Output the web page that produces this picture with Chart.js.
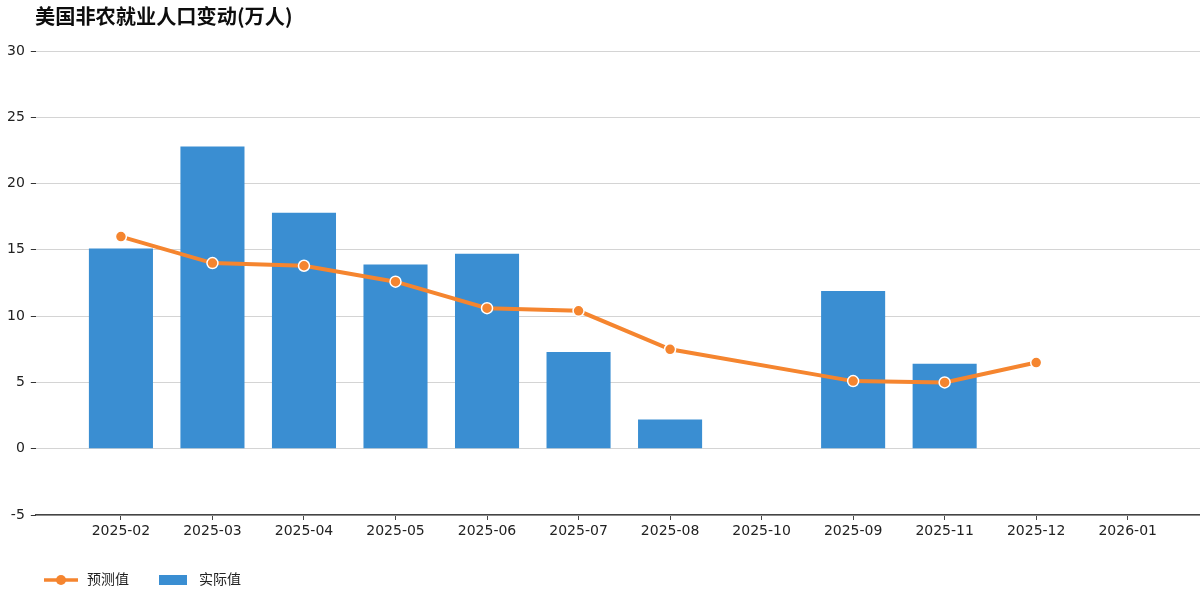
<!DOCTYPE html>
<html>
<head>
<meta charset="utf-8">
<script src="https://cdn.jsdelivr.net/npm/chart.js@4.4.0/dist/chart.umd.min.js"></script>
<style>
  html, body { margin: 0; padding: 0; background: #fff; }
  #wrap { position: relative; width: 1200px; height: 595px; }
  #title { position: absolute; left: 35px; top: 1px; font: bold 20.2px "Noto Sans CJK SC", sans-serif; color: #0d0d0d; }
</style>
</head>
<body>
<div id="wrap">
  <div id="title">美国非农就业人口变动(万人)</div>
  <canvas id="chart" width="1200" height="595"></canvas>
</div>
<script>
// x categories, in the order the source chart shows them
const months = ['2025-02', '2025-03', '2025-04', '2025-05', '2025-06', '2025-07',
                '2025-08', '2025-10', '2025-09', '2025-11', '2025-12', '2026-01'];
// 实际值 (bars) and 预测值 (line), 万人
const actual   = [15.1, 22.8, 17.8, 13.9, 14.7, 7.3, 2.2, null, 11.9, 6.4, null, null];
const forecast = [16.0, 14.0, 13.8, 12.6, 10.6, 10.4, 7.5, null, 5.1, 5.0, 6.5, null];

const BLUE = '#3a8ed2';
const ORANGE = '#f5852f';
const FONT = '"DejaVu Sans", "Noto Sans CJK SC", sans-serif';

/* legend swatches: a line with a dot, and a flat box */
function lineSwatch() {
    const c = document.createElement('canvas');
    c.width = 34; c.height = 14;
    const g = c.getContext('2d');
    g.strokeStyle = ORANGE; g.lineWidth = 3.5;
    g.beginPath(); g.moveTo(0, 7); g.lineTo(34, 7); g.stroke();
    g.fillStyle = ORANGE;
    g.beginPath(); g.arc(17, 7, 5, 0, Math.PI * 2); g.fill();
    return c;
}
function barSwatch() {
    const c = document.createElement('canvas');
    c.width = 28; c.height = 10;
    const g = c.getContext('2d');
    g.fillStyle = BLUE; g.fillRect(0, 0, 28, 10);
    return c;
}
const swatches = [lineSwatch(), barSwatch()];

// legend sits a bit right of the canvas edge
const legendShift = {
    id: 'legendShift',
    afterLayout(chart) { chart.legend.left += 16; chart.legend.top += 6; }
};

new Chart(document.getElementById('chart'), {
    type: 'bar',
    data: {
        datasets: [{
            type: 'line',
            label: '预测值',
            data: forecast.map((v, i) => ({x: i, y: v})),
            borderColor: ORANGE,
            backgroundColor: ORANGE,
            borderWidth: 4,
            pointRadius: 5.5,
            pointBackgroundColor: ORANGE,
            pointBorderColor: '#fff',
            pointBorderWidth: 1.5,
            spanGaps: true,
            tension: 0,
            order: 0,
        }, {
            label: '实际值',
            data: actual.map((v, i) => ({x: i, y: v})),
            backgroundColor: BLUE,
            barPercentage: 1,
            categoryPercentage: 0.7,
            order: 1,
        }]
    },
    options: {
        responsive: false,
        animation: false,
        layout: {autoPadding: false, padding: {left: 1, right: 0, top: 51, bottom: 4}},
        scales: {
            x: {
                type: 'linear',
                offset: false,
                min: -0.93,
                max: 11.79,
                afterBuildTicks: axis => { axis.ticks = months.map((m, i) => ({value: i})); },
                ticks: {
                    callback: v => months[v],
                    autoSkip: false,
                    maxRotation: 0,
                    padding: -3,
                    color: '#222',
                    font: {family: FONT, size: 14, lineHeight: 2},
                },
                grid: {drawOnChartArea: false, drawTicks: true, tickLength: 5, tickColor: '#444', offset: false},
                border: {display: true, color: '#444', width: 1.5},
            },
            y: {
                min: -5,
                max: 30,
                ticks: {stepSize: 5, padding: 6, color: '#222', font: {family: FONT, size: 14}},
                grid: {color: '#d4d4d4', lineWidth: 1, tickLength: 5, tickColor: '#333'},
                border: {display: false},
            }
        },
        plugins: {
            title: {display: false},
            tooltip: {enabled: false},
            legend: {
                position: 'bottom',
                align: 'start',
                labels: {
                    usePointStyle: true,
                    pointStyleWidth: 38,
                    boxHeight: 14,
                    padding: 25,
                    color: '#222',
                    font: {family: FONT, size: 14},
                    generateLabels(chart) {
                        const items = Chart.defaults.plugins.legend.labels.generateLabels(chart);
                        items.forEach((it, k) => { it.pointStyle = swatches[k]; });
                        return items;
                    }
                }
            }
        }
    },
    plugins: [legendShift]
});
</script>
</body>
</html>
